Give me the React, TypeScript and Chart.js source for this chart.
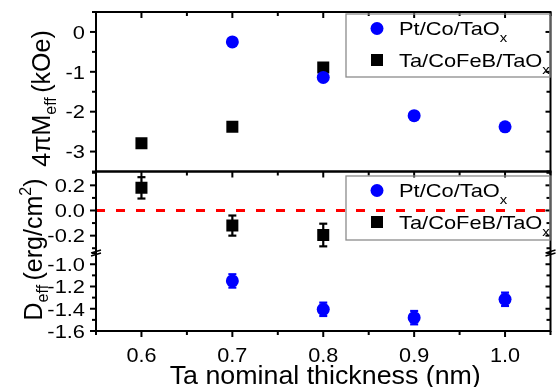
import React, { useEffect, useRef } from 'react';
import { Chart, registerables } from 'chart.js';
Chart.register(...registerables);

// ---- data ----
const ptCoThk = [0.7, 0.8, 0.9, 1.0];
const ptCoMeff = [-0.25, -1.14, -2.1, -2.38];
const taCfbThk = [0.6, 0.7, 0.8];
const taCfbMeff = [-2.79, -2.38, -0.89];
const ptCoDeff = [-1.15, -1.405, -1.48, -1.315];
const ptCoDerr = [0.06, 0.06, 0.06, 0.06];
const taCfbDeff = [0.18, -0.12, -0.195];
const taCfbDerr = [0.085, 0.08, 0.09];

// ---- ticks ----
const xMajor = [0.6, 0.7, 0.8, 0.9, 1.0];
const xLabels = ['0.6', '0.7', '0.8', '0.9', '1.0'];
const xMinor = [0.55, 0.65, 0.75, 0.85, 0.95, 1.05];
const topMajor = [0, -1, -2, -3];
const topLabels = ['0', '-1', '-2', '-3'];
const topMinor = [0.5, -0.5, -1.5, -2.5, -3.5];
const upMajor = [0.2, 0, -0.2];
const upLabels = ['0.2', '0.0', '-0.2'];
const upMinor = [0.3, 0.1, -0.1, -0.3];
const lowMajor = [-1.0, -1.2, -1.4, -1.6];
const lowLabels = ['-1.0', '-1.2', '-1.4', '-1.6'];
const lowMinor = [-0.9, -1.1, -1.3, -1.5];

const seriesNames = ['Pt/Co/TaO', 'Ta/CoFeB/TaO'];
const seriesSub = 'x';
const xTitle = 'Ta nominal thickness (nm)';

const BLUE = '#0000ff';
const BLACK = '#000000';
const FONT = '"Liberation Sans", Arial, Helvetica, sans-serif';

type Seg = { t: string; s: number; dy?: number };

function segWidth(ctx: CanvasRenderingContext2D, segs: Seg[], sx: number) {
  let w = 0;
  for (const g of segs) {
    ctx.font = `${g.s}px ${FONT}`;
    w += ctx.measureText(g.t).width * sx;
  }
  return w;
}

function drawRich(ctx: CanvasRenderingContext2D, segs: Seg[], x: number, y: number, align: string, sx = 1) {
  const w = segWidth(ctx, segs, sx);
  let cx = align === 'left' ? x : align === 'right' ? x - w : x - w / 2;
  ctx.save();
  ctx.fillStyle = BLACK;
  ctx.textAlign = 'left';
  ctx.textBaseline = 'alphabetic';
  for (const g of segs) {
    ctx.font = `${g.s}px ${FONT}`;
    const gw = ctx.measureText(g.t).width * sx;
    ctx.save();
    ctx.translate(cx, y + (g.dy || 0));
    ctx.scale(sx, 1);
    ctx.fillText(g.t, 0, 0);
    ctx.restore();
    cx += gw;
  }
  ctx.restore();
}

const X_SIZE = 21, X_SX = 1.03;
const Y_SIZE = 19, Y_SX = 1.15;
const LEG_SIZE = 19, LEG_SX = 1.15;

function drawLegend(ctx: CanvasRenderingContext2D, left: number, top: number, right: number, bottom: number) {
  ctx.save();
  ctx.strokeStyle = '#8c8c8c';
  ctx.lineWidth = 1.3;
  ctx.strokeRect(left, top, right - left, bottom - top);
  const mx = 377;
  const r1 = top + 14.5, r2 = top + 46;
  ctx.fillStyle = BLUE;
  ctx.beginPath();
  ctx.arc(mx, r1, 6.5, 0, Math.PI * 2);
  ctx.fill();
  ctx.fillStyle = BLACK;
  ctx.fillRect(mx - 6, r2 - 6, 12, 12);
  drawRich(ctx, [{ t: seriesNames[0], s: LEG_SIZE }, { t: seriesSub, s: 13, dy: 7 }], 399, r1 + 6.5, 'left', LEG_SX);
  drawRich(ctx, [{ t: seriesNames[1], s: LEG_SIZE }, { t: seriesSub, s: 13, dy: 7 }], 399, r2 + 6.5, 'left', LEG_SX);
  ctx.restore();
}

function line(ctx: CanvasRenderingContext2D, x1: number, y1: number, x2: number, y2: number) {
  ctx.beginPath();
  ctx.moveTo(x1, y1);
  ctx.lineTo(x2, y2);
  ctx.stroke();
}

const errorBars = {
  id: 'errorBars',
  beforeDatasetsDraw(chart: any) {
    const ctx = chart.ctx as CanvasRenderingContext2D;
    const xs = chart.scales.x;
    const sets = [
      { thk: ptCoThk, val: ptCoDeff, err: ptCoDerr, axis: 'yLow', color: BLUE },
      { thk: taCfbThk, val: taCfbDeff, err: taCfbDerr, axis: 'yUp', color: BLACK },
    ];
    ctx.save();
    ctx.lineWidth = 2.2;
    for (const s of sets) {
      const ys = chart.scales[s.axis];
      ctx.strokeStyle = s.color;
      s.thk.forEach((t, i) => {
        const px = xs.getPixelForValue(t);
        const y1 = ys.getPixelForValue(s.val[i] + s.err[i]);
        const y2 = ys.getPixelForValue(s.val[i] - s.err[i]);
        line(ctx, px, y1, px, y2);
        line(ctx, px - 4, y1, px + 4, y1);
        line(ctx, px - 4, y2, px + 4, y2);
      });
    }
    ctx.restore();
  },
};

const decor = {
  id: 'decor',
  afterDraw(chart: any) {
    const ctx = chart.ctx as CanvasRenderingContext2D;
    const xs = chart.scales.x;
    const yTop = chart.scales.yTop;
    const yUp = chart.scales.yUp;
    const yLow = chart.scales.yLow;
    const L = xs.left, R = xs.right;
    const T = yTop.top, M = yTop.bottom, B = yLow.bottom;
    const brk = yLow.top;

    ctx.save();
    ctx.strokeStyle = BLACK;
    ctx.lineWidth = 2;
    ctx.lineCap = 'butt';
    ctx.strokeRect(L, T, R - L, M - T);
    ctx.strokeRect(L, M, R - L, B - M);

    // x ticks
    for (const v of xMajor) {
      const px = xs.getPixelForValue(v);
      line(ctx, px, T, px, T + 6);
      line(ctx, px, M, px, M + 6);
      line(ctx, px, B, px, B + 6);
    }
    for (const v of xMinor) {
      const px = xs.getPixelForValue(v);
      line(ctx, px, T, px, T + 4);
      line(ctx, px, M, px, M + 4);
      line(ctx, px, B, px, B + 4);
    }
    // y ticks
    const yTicks = (sc: any, major: number[], minor: number[]) => {
      for (const v of major) {
        const py = sc.getPixelForValue(v);
        line(ctx, L - 6, py, L, py);
        line(ctx, R - 5, py, R, py);
      }
      for (const v of minor) {
        const py = sc.getPixelForValue(v);
        line(ctx, L - 4, py, L, py);
        line(ctx, R - 4, py, R, py);
      }
    };
    yTicks(yTop, topMajor, topMinor);
    yTicks(yUp, upMajor, upMinor);
    yTicks(yLow, lowMajor, lowMinor);

    // break marks
    ctx.lineWidth = 1.4;
    for (const bx of [L, R]) {
      line(ctx, bx - 5, brk + 1, bx + 5, brk - 2);
      line(ctx, bx - 5, brk + 4, bx + 5, brk + 1);
    }

    // tick labels
    const capY = Y_SIZE * 0.716;
    const yLab = (sc: any, major: number[], labels: string[]) => {
      major.forEach((v, i) => {
        const py = sc.getPixelForValue(v);
        drawRich(ctx, [{ t: labels[i], s: Y_SIZE }], 85, py + capY / 2, 'right', Y_SX);
      });
    };
    yLab(yTop, topMajor, topLabels);
    yLab(yUp, upMajor, upLabels);
    yLab(yLow, lowMajor, lowLabels);
    xMajor.forEach((v, i) => {
      const px = xs.getPixelForValue(v);
      drawRich(ctx, [{ t: xLabels[i], s: X_SIZE }], px, 362, 'center', X_SX);
    });

    // axis titles
    drawRich(ctx, [{ t: xTitle, s: 26 }], (L + R) / 2 + 2, 384, 'center', 1.03);

    ctx.save();
    ctx.translate(50, 98.5);
    ctx.rotate(-Math.PI / 2);
    drawRich(ctx, [{ t: '4\u03c0M', s: 25 }, { t: 'eff ', s: 16, dy: 6 }, { t: '(kOe)', s: 25 }], 0, 0, 'center');
    ctx.restore();

    ctx.save();
    ctx.translate(42, 249.5);
    ctx.rotate(-Math.PI / 2);
    drawRich(ctx, [{ t: 'D', s: 25 }, { t: 'eff ', s: 16, dy: 6 }, { t: '(erg/cm', s: 25 }, { t: '2', s: 16, dy: -11 }, { t: ')', s: 25 }], 0, 0, 'center');
    ctx.restore();

    // legends
    drawLegend(ctx, 346, 14, 550, 77);
    drawLegend(ctx, 346, 176, 550, 240);
    ctx.restore();
  },
};

export default function App() {
  const ref = useRef<HTMLCanvasElement>(null);
  useEffect(() => {
    const canvas = ref.current!;
    const hidden = {
      grid: { display: false },
      border: { display: false },
      ticks: { display: false },
    };
    const chart = new Chart(canvas, {
      type: 'scatter',
      data: {
        datasets: [
          {
            label: seriesNames[0],
            data: ptCoThk.map((x, i) => ({ x, y: ptCoMeff[i] })),
            yAxisID: 'yTop',
            pointStyle: 'circle',
            pointRadius: 6.5,
            pointBackgroundColor: BLUE,
            pointBorderWidth: 0,
          },
          {
            label: seriesNames[1],
            data: taCfbThk.map((x, i) => ({ x, y: taCfbMeff[i] })),
            yAxisID: 'yTop',
            pointStyle: 'rect',
            pointRadius: 8.5,
            pointBackgroundColor: BLACK,
            pointBorderWidth: 0,
          },
          {
            label: seriesNames[0],
            data: ptCoThk.map((x, i) => ({ x, y: ptCoDeff[i] })),
            yAxisID: 'yLow',
            pointStyle: 'circle',
            pointRadius: 6.5,
            pointBackgroundColor: BLUE,
            pointBorderWidth: 0,
          },
          {
            label: seriesNames[1],
            data: taCfbThk.map((x, i) => ({ x, y: taCfbDeff[i] })),
            yAxisID: 'yUp',
            pointStyle: 'rect',
            pointRadius: 8.5,
            pointBackgroundColor: BLACK,
            pointBorderWidth: 0,
          },
          {
            type: 'line',
            label: 'zero',
            data: [{ x: 0.55, y: 0 }, { x: 1.05, y: 0 }],
            yAxisID: 'yUp',
            showLine: true,
            borderColor: '#ff0000',
            borderWidth: 3,
            borderDash: [9, 11],
            pointRadius: 0,
            fill: false,
          } as any,
        ],
      },
      options: {
        responsive: false,
        animation: false,
        events: [],
        layout: { padding: { top: 12, right: 6, left: 0, bottom: 0 } },
        plugins: { legend: { display: false }, tooltip: { enabled: false } },
        scales: {
          x: {
            type: 'linear', position: 'bottom', min: 0.55, max: 1.05, ...hidden,
            afterFit: (s: any) => { s.height = 56; },
          },
          yTop: {
            type: 'linear', position: 'left', stack: 'panels', stackWeight: 159.5, weight: 3,
            min: -3.5, max: 0.5, ...hidden,
            afterFit: (s: any) => { s.width = 96; },
          },
          yUp: {
            type: 'linear', position: 'left', stack: 'panels', stackWeight: 80.5, weight: 2,
            min: -0.33, max: 0.31, ...hidden,
            afterFit: (s: any) => { s.width = 96; },
          },
          yLow: {
            type: 'linear', position: 'left', stack: 'panels', stackWeight: 79, weight: 1,
            min: -1.6, max: -0.89, ...hidden,
            afterFit: (s: any) => { s.width = 96; },
          },
        } as any,
      },
      plugins: [errorBars, decor],
    });
    return () => chart.destroy();
  }, []);
  return (
    <div style={{ position: 'fixed', left: 0, top: 0, width: 559, height: 387, background: '#fff' }}>
      <canvas ref={ref} width={559} height={387} style={{ display: 'block' }} />
    </div>
  );
}
